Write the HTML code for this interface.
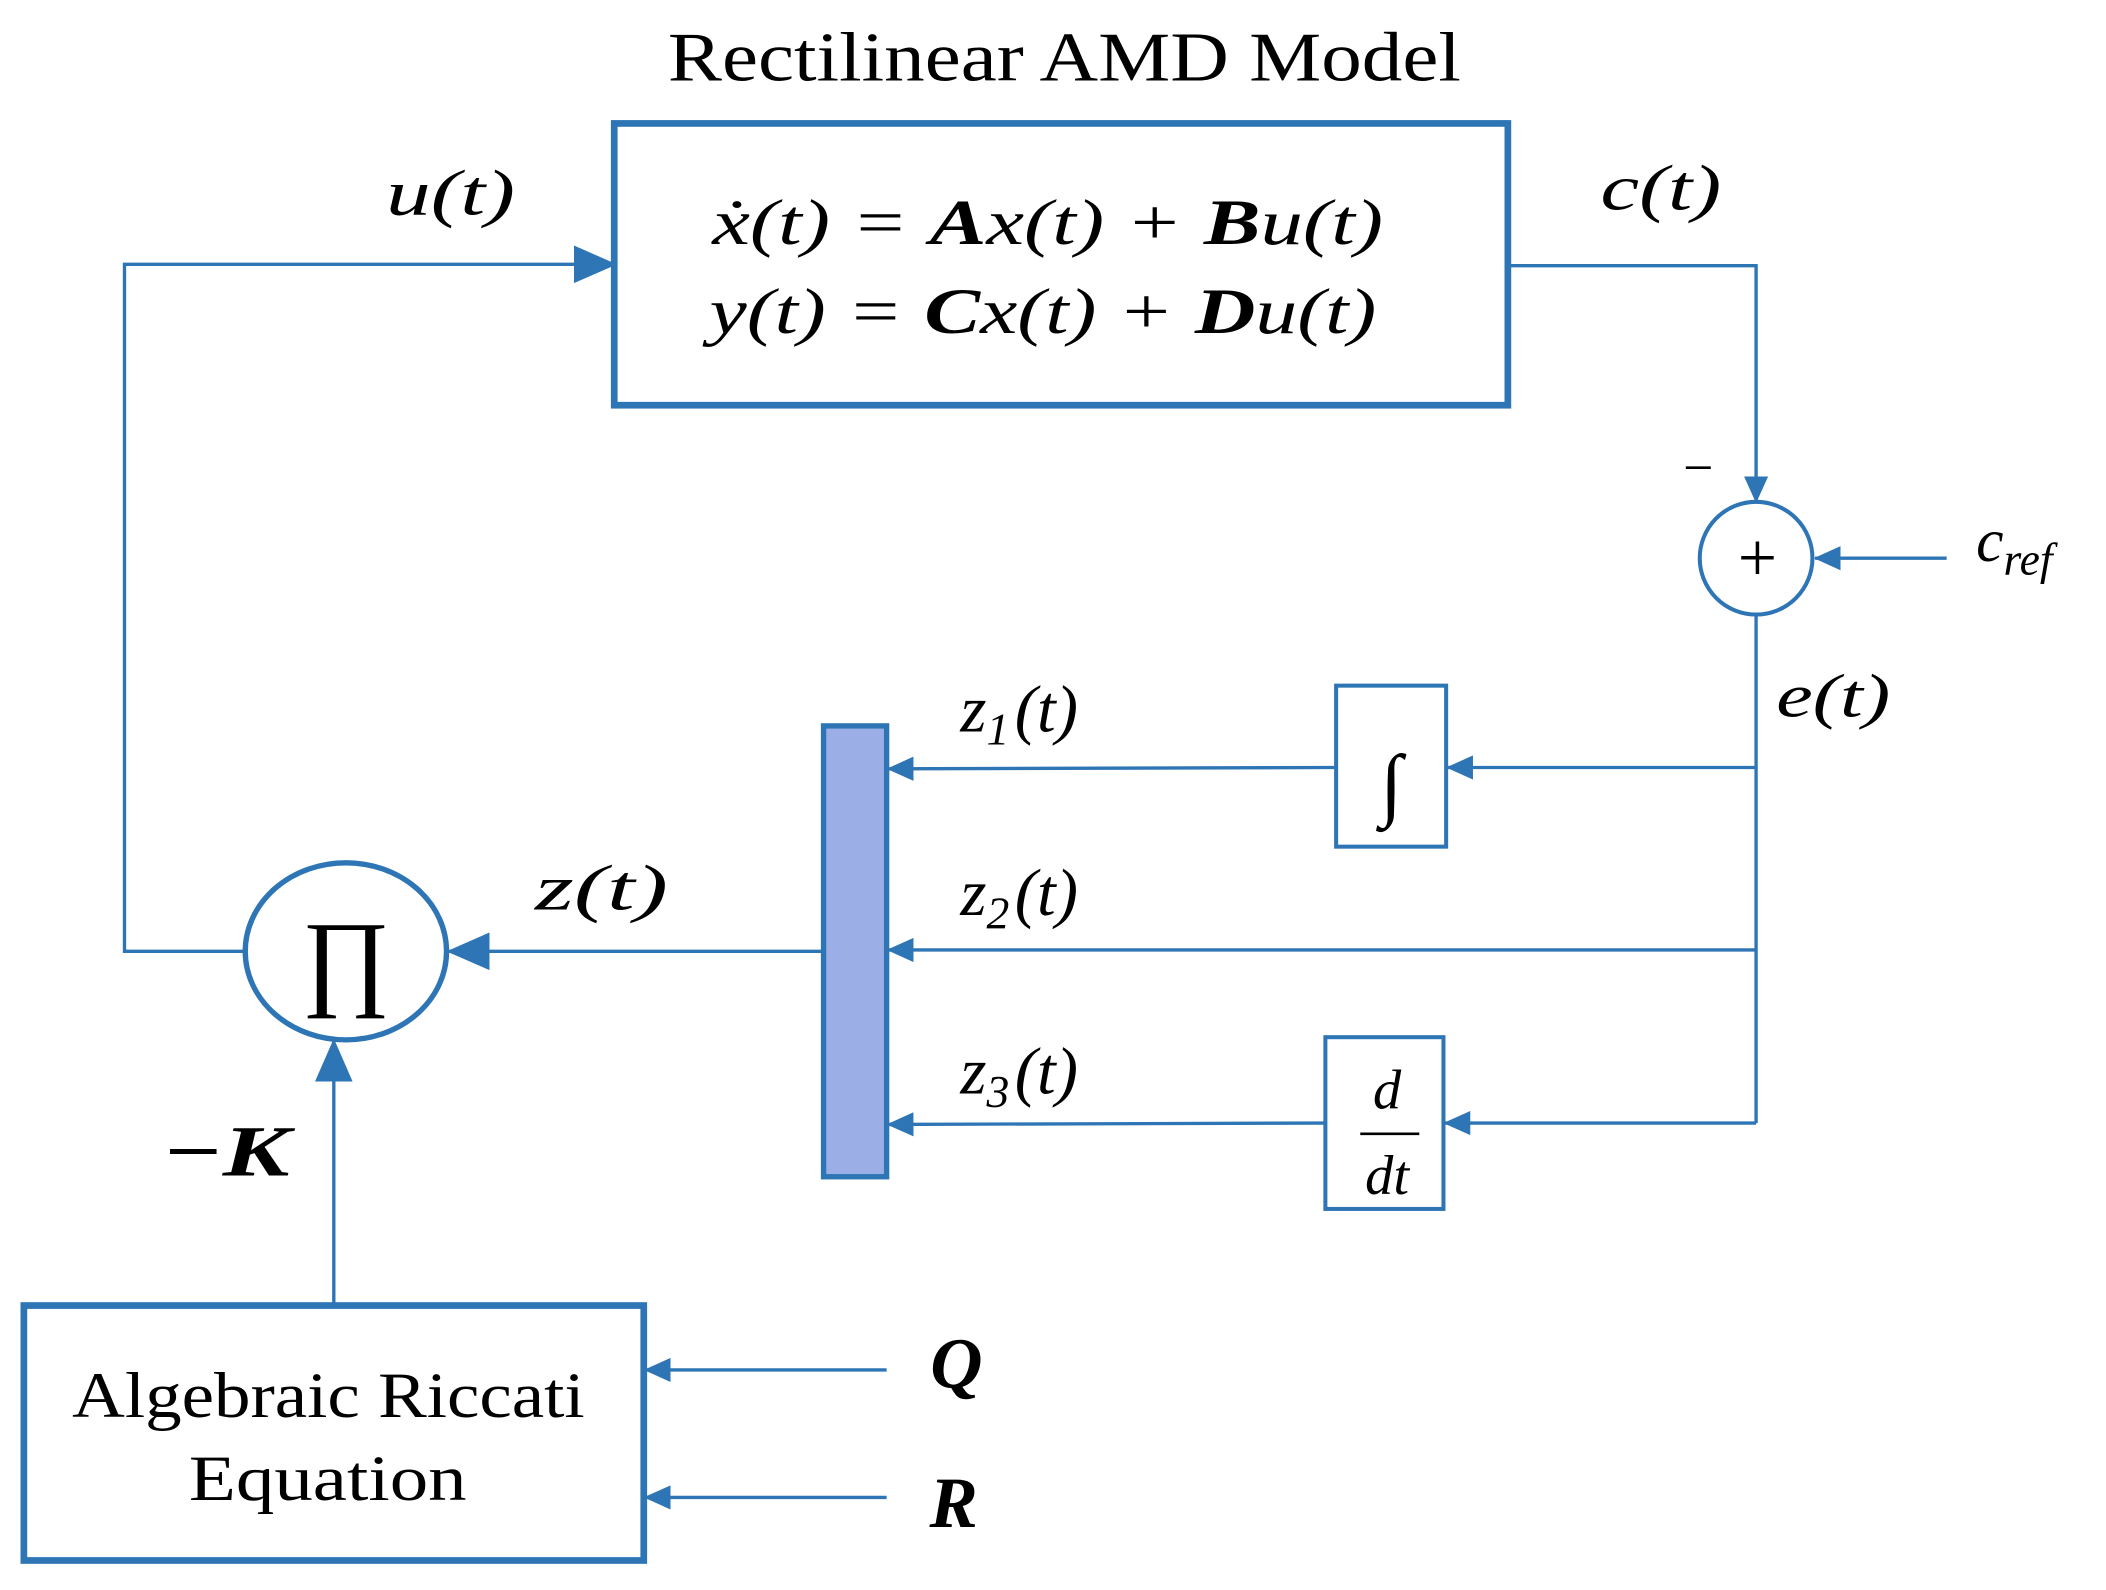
<!DOCTYPE html>
<html><head><meta charset="utf-8"><style>html,body{margin:0;padding:0;background:#fff}svg{display:block}</style></head>
<body>
<svg width="2106" height="1590" viewBox="0 0 1568 1185" xmlns="http://www.w3.org/2000/svg" font-family="Liberation Serif, serif">
<defs>
<marker id="b" markerWidth="32" markerHeight="28" refX="30" refY="14" orient="auto" markerUnits="userSpaceOnUse" viewBox="0 0 32 28">
<path d="M0,0 L32,14 L0,28 z" fill="#2e75b6"/></marker>
<marker id="c" markerWidth="20" markerHeight="18" refX="19" refY="9" orient="auto" markerUnits="userSpaceOnUse" viewBox="0 0 20 18">
<path d="M0,0 L20,9 L0,18 z" fill="#2e75b6"/></marker>
</defs>
<g fill="none" stroke="#2e75b6">
<rect x="457" y="92" width="666" height="210" stroke-width="5"/>
<rect x="17" y="973" width="462" height="190" stroke-width="5"/>
<rect x="995" y="511" width="82" height="120" stroke-width="3"/>
<rect x="987" y="773" width="88" height="128" stroke-width="3"/>
<rect x="613" y="541" width="47" height="336" fill="#9caee6" stroke-width="4"/>
<circle cx="1308" cy="416" r="42" stroke-width="3"/>
<ellipse cx="257" cy="709" rx="75" ry="66" stroke-width="4"/>
<g stroke-width="2.5">
<polyline points="1123,198 1308,198 1308,374" marker-end="url(#c)"/>
<line x1="1450" y1="416" x2="1352" y2="416" marker-end="url(#c)"/>
<line x1="1308" y1="458" x2="1308" y2="837"/>
<line x1="1308" y1="572" x2="1078" y2="572" marker-end="url(#c)"/>
<line x1="1308" y1="708" x2="661" y2="708" marker-end="url(#c)"/>
<line x1="1308" y1="837" x2="1076" y2="837" marker-end="url(#c)"/>
<line x1="995" y1="572" x2="661" y2="573" marker-end="url(#c)"/>
<line x1="987" y1="837" x2="661" y2="838" marker-end="url(#c)"/>
<line x1="613" y1="709" x2="334" y2="709" marker-end="url(#b)"/>
<polyline points="182,709 92,709 92,197 457,197" marker-end="url(#b)"/>
<line x1="248" y1="973" x2="248" y2="776" marker-end="url(#b)"/>
<line x1="660" y1="1021" x2="480" y2="1021" marker-end="url(#c)"/>
<line x1="660" y1="1116" x2="480" y2="1116" marker-end="url(#c)"/>
<line x1="1013" y1="845" x2="1057" y2="845" stroke="#000" stroke-width="2"/>
</g>
</g>
<g fill="#000">
<text x="497" y="60" font-size="52" textLength="591" lengthAdjust="spacingAndGlyphs">Rectilinear AMD Model</text>
<text x="530" y="182" font-size="48" font-style="italic" textLength="500" lengthAdjust="spacingAndGlyphs">ẋ(t) = <tspan font-weight="bold">A</tspan>x(t) + <tspan font-weight="bold">B</tspan>u(t)</text>
<text x="528" y="248" font-size="48" font-style="italic" textLength="497" lengthAdjust="spacingAndGlyphs">y(t) = <tspan font-weight="bold">C</tspan>x(t) + <tspan font-weight="bold">D</tspan>u(t)</text>
<text x="287" y="160" font-size="48" font-style="italic" textLength="96" lengthAdjust="spacingAndGlyphs">u(t)</text>
<text x="1192" y="156" font-size="48" font-style="italic" textLength="90" lengthAdjust="spacingAndGlyphs">c(t)</text>
<text x="1265" y="362" font-size="40" text-anchor="middle">−</text>
<text x="1309" y="433" font-size="52" text-anchor="middle">+</text>
<text x="1472" y="418" font-size="46" font-style="italic">c<tspan font-size="34" dy="10">ref</tspan></text>
<text x="1323" y="534" font-size="46" font-style="italic" textLength="85" lengthAdjust="spacingAndGlyphs">e(t)</text>
<text x="1036" y="604" font-size="60" text-anchor="middle">∫</text>
<text x="1033" y="826" font-size="42" text-anchor="middle" font-style="italic">d</text>
<text x="1033" y="890" font-size="42" text-anchor="middle" font-style="italic">dt</text>
<text x="715" y="545" font-size="50" font-style="italic">z<tspan font-size="34" dy="10">1</tspan><tspan dy="-10" dx="4">(t)</tspan></text>
<text x="715" y="682" font-size="50" font-style="italic">z<tspan font-size="34" dy="10">2</tspan><tspan dy="-10" dx="4">(t)</tspan></text>
<text x="715" y="815" font-size="50" font-style="italic">z<tspan font-size="34" dy="10">3</tspan><tspan dy="-10" dx="4">(t)</tspan></text>
<text x="398" y="678" font-size="48" font-style="italic" textLength="99" lengthAdjust="spacingAndGlyphs">z(t)</text>
<text x="257" y="742" font-size="80" text-anchor="middle">∏</text>
<text x="120" y="876" font-size="54" font-style="italic" font-weight="bold" textLength="95" lengthAdjust="spacingAndGlyphs">−K</text>
<text x="53" y="1056" font-size="48" textLength="382" lengthAdjust="spacingAndGlyphs">Algebraic Riccati</text>
<text x="140" y="1118" font-size="48" textLength="207" lengthAdjust="spacingAndGlyphs">Equation</text>
<text x="712" y="1034" font-size="54" text-anchor="middle" font-style="italic" font-weight="bold">Q</text>
<text x="710" y="1138" font-size="54" text-anchor="middle" font-style="italic" font-weight="bold">R</text>
</g>
</svg>
</body></html>
